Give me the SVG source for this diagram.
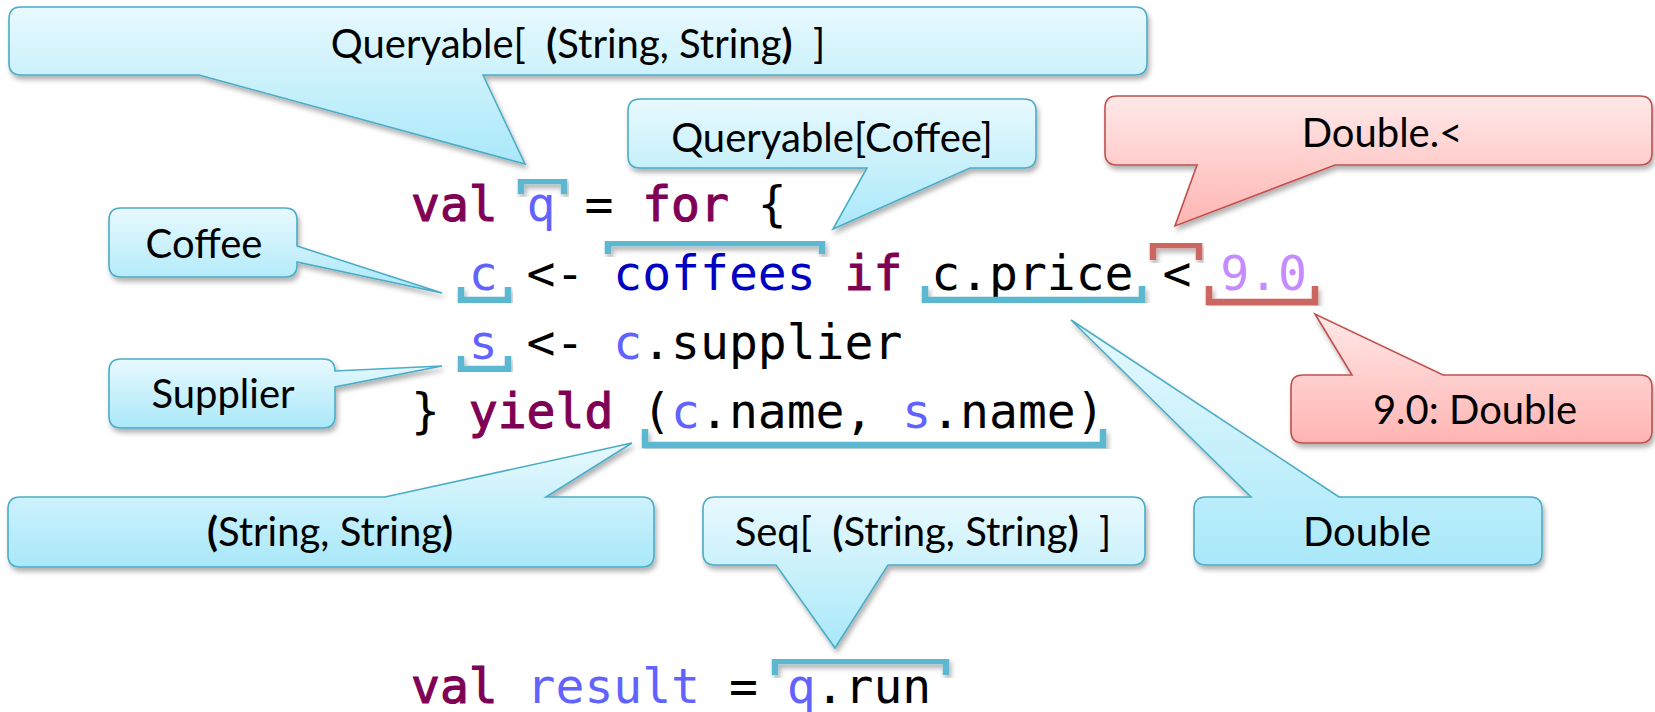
<svg xmlns="http://www.w3.org/2000/svg" width="1655" height="712" viewBox="0 0 1655 712">
<defs>
<linearGradient id="gb" x1="0" y1="0" x2="0" y2="1"><stop offset="0" stop-color="#e8f9fe"/><stop offset="1" stop-color="#a9e8f9"/></linearGradient>
<linearGradient id="gr" x1="0" y1="0" x2="0" y2="1"><stop offset="0" stop-color="#ffe8e8"/><stop offset="1" stop-color="#ffb5b2"/></linearGradient>
<filter id="sh" x="-10%" y="-10%" width="120%" height="130%"><feDropShadow dx="2" dy="4" stdDeviation="2.5" flood-color="#000" flood-opacity="0.3"/></filter>
<style>
.cb{fill:url(#gb);stroke:#4bacc6;stroke-width:1.6;filter:url(#sh)}
.cr{fill:url(#gr);stroke:#c0504d;stroke-width:1.6;filter:url(#sh)}
.lb{font-family:Lato,"Liberation Sans",sans-serif;font-size:40px;fill:#000;text-anchor:middle;white-space:pre}
.b{font-weight:bold}
.code{font-family:"DejaVu Sans Mono",monospace;font-size:48px;fill:#000;white-space:pre}
.kw{fill:#7f0055;stroke:#7f0055;stroke-width:1.1}
.id{fill:#6262ff}
.cf{fill:#0000c0}
.num{fill:#c58bff}
.brb{fill:none;stroke:#5bb8d0;stroke-width:6.5;filter:url(#sh)}
.brr{fill:none;stroke:#cc6660;stroke-width:6.5;filter:url(#sh)}
</style>
</defs>
<rect width="1655" height="712" fill="#fff"/>

<g id="code">
<text class="code" x="411" y="221"><tspan class="kw">val</tspan> <tspan class="id">q</tspan> = <tspan class="kw">for</tspan> {</text>
<text class="code" x="411" y="290">  <tspan class="id">c</tspan> &lt;- <tspan class="cf">coffees</tspan> <tspan class="kw">if</tspan> c.price &lt; <tspan class="num">9.0</tspan></text>
<text class="code" x="411" y="359">  <tspan class="id">s</tspan> &lt;- <tspan class="id">c</tspan>.supplier</text>
<text class="code" x="411" y="428">} <tspan class="kw">yield</tspan> (<tspan class="id">c</tspan>.name, <tspan class="id">s</tspan>.name)</text>
<text class="code" x="411" y="703"><tspan class="kw">val</tspan> <tspan class="id">result</tspan> = <tspan class="id">q</tspan>.run</text>
</g>

<g id="connectors">
<path class="brb" d="M521,194 V181 H564 V194"/>
<path class="brb" d="M608,254 V243 H822 V254"/>
<path class="brb" d="M461,287 V300 H508 V287"/>
<path class="brb" d="M461,356 V369 H508 V356"/>
<path class="brb" d="M925,286 V300 H1142 V286"/>
<path class="brr" d="M1153,260 V245 H1199 V260"/>
<path class="brr" d="M1209,286 V302 H1315 V286"/>
<path class="brb" d="M645,429 V445 H1103 V429"/>
<path class="brb" d="M775,675 V661 H946 V675"/>
</g>

<g id="callout-queryable-tuple">
<path class="cb" d="M21,7 H1135 Q1147,7 1147,19 V63 Q1147,75 1135,75 H483 L525,164 L199,75 H21 Q9,75 9,63 V19 Q9,7 21,7 Z"/>
<text class="lb" x="578" y="58">Queryable[  <tspan class="b">(</tspan>String, String<tspan class="b">)</tspan>  ]</text>
</g>

<g id="callout-queryable-coffee">
<path class="cb" d="M640,99 H1024 Q1036,99 1036,111 V156 Q1036,168 1024,168 H970 L833,229 L867,168 H640 Q628,168 628,156 V111 Q628,99 640,99 Z"/>
<text class="lb" x="832" y="152">Queryable[Coffee]</text>
</g>

<g id="callout-double-lt">
<path class="cr" d="M1117,96 H1640 Q1652,96 1652,108 V153 Q1652,165 1640,165 H1335 L1175,226 L1197,165 H1117 Q1105,165 1105,153 V108 Q1105,96 1117,96 Z"/>
<text class="lb" x="1382" y="147">Double.&lt;</text>
</g>

<g id="callout-coffee">
<path class="cb" d="M121,208 H285 Q297,208 297,220 V246 L442,293 L297,262 V265 Q297,277 285,277 H121 Q109,277 109,265 V220 Q109,208 121,208 Z"/>
<text class="lb" x="204" y="258">Coffee</text>
</g>

<g id="callout-supplier">
<path class="cb" d="M121,359 H323 Q335,359 335,371 V371 L442,366 L335,387 V416 Q335,428 323,428 H121 Q109,428 109,416 V371 Q109,359 121,359 Z"/>
<text class="lb" x="223" y="408">Supplier</text>
</g>

<g id="callout-tuple">
<path class="cb" d="M20,497 H385 L632,443 L546,497 H642 Q654,497 654,509 V555 Q654,567 642,567 H20 Q8,567 8,555 V509 Q8,497 20,497 Z"/>
<text class="lb" x="330" y="546"><tspan class="b">(</tspan>String, String<tspan class="b">)</tspan></text>
</g>

<g id="callout-seq">
<path class="cb" d="M715,497 H1133 Q1145,497 1145,509 V553 Q1145,565 1133,565 H888 L835,648 L776,565 H715 Q703,565 703,553 V509 Q703,497 715,497 Z"/>
<text class="lb" x="923" y="546">Seq[  <tspan class="b">(</tspan>String, String<tspan class="b">)</tspan>  ]</text>
</g>

<g id="callout-double">
<path class="cb" d="M1206,497 H1251 L1071,320 L1339,497 H1530 Q1542,497 1542,509 V553 Q1542,565 1530,565 H1206 Q1194,565 1194,553 V509 Q1194,497 1206,497 Z"/>
<text class="lb" x="1367" y="546">Double</text>
</g>

<g id="callout-nine">
<path class="cr" d="M1303,375 H1352 L1315,314 L1443,375 H1640 Q1652,375 1652,387 V431 Q1652,443 1640,443 H1303 Q1291,443 1291,431 V387 Q1291,375 1303,375 Z"/>
<text class="lb" x="1475" y="424">9.0: Double</text>
</g>
</svg>
